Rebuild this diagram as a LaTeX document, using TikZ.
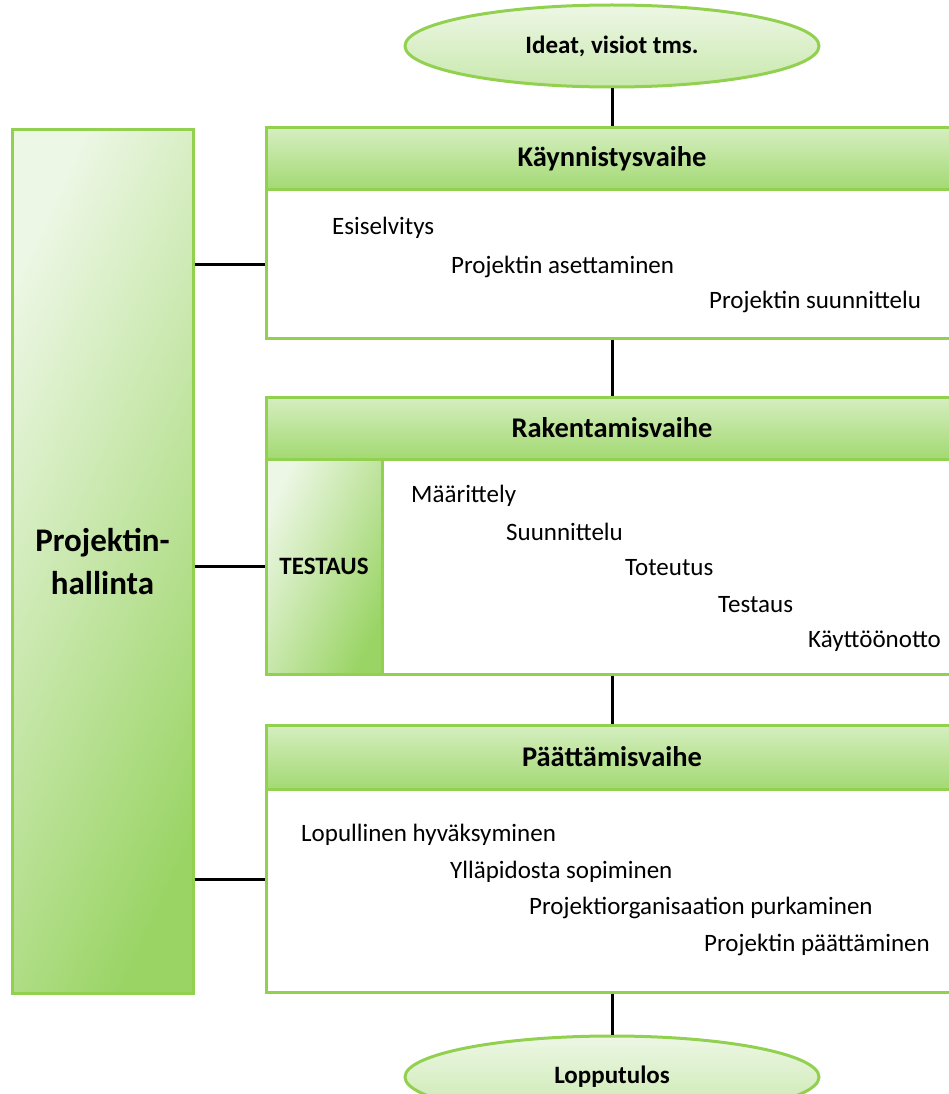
\documentclass[tikz,border=0pt]{standalone}
\usepackage{fontspec}
\setmainfont{Carlito}
\usetikzlibrary{shapes.geometric}
\definecolor{grborder}{HTML}{92D050}
\definecolor{grpale}{HTML}{EDF7E5}
\definecolor{grsoft}{HTML}{C9E8AE}
\definecolor{grdeep}{HTML}{9AD465}
\definecolor{grhead}{HTML}{D5EEC0}
\definecolor{grheadb}{HTML}{A3D972}
\tikzset{
  endnode/.style={ellipse,draw=grborder,line width=3pt,top color=grpale,bottom color=grsoft,
    minimum width=414pt,minimum height=82pt,inner sep=0pt,font=\fontsize{25}{30}\selectfont\bfseries},
  headbox/.style={rectangle,draw=grborder,line width=3pt,top color=grhead,bottom color=grheadb,
    minimum width=692pt,minimum height=62pt,inner sep=0pt,font=\fontsize{28.5}{34}\selectfont\bfseries},
  bodybox/.style={rectangle,draw=grborder,line width=3pt,fill=white,minimum width=692pt,inner sep=0pt},
  sidebox/.style={rectangle,draw=grborder,line width=3pt,top color=grpale,bottom color=grdeep,
    shading angle=65,inner sep=0pt,align=center,font=\fontsize{25}{30}\selectfont\bfseries},
  itemtext/.style={anchor=west,inner sep=0pt,font=\fontsize{25}{30}\selectfont},
  link/.style={line width=3pt,black},
}

\begin{document}
\begin{tikzpicture}[x=1pt,y=-1pt]
  \useasboundingbox (0,0) rectangle (948,1094);
  % management column
  \node[sidebox,minimum width=181pt,minimum height=863pt,font=\fontsize{33}{43}\selectfont\bfseries]
    (hallinta) at (102.5,561.5) {Projektin-\\hallinta};
  % start and end
  \node[endnode] (ideat) at (612,46) {Ideat, visiot tms.};
  \node[endnode] (loppu) at (612,1077) {Lopputulos};
  % phase 1
  \node[bodybox,minimum height=148pt] (kaynbody) at (612,264) {};
  \node[headbox] (kaynhead) at (612,159) {Käynnistysvaihe};
  \node[itemtext] (esisel) at (332,228) {Esiselvitys};
  \node[itemtext] (asett) at (451,267) {Projektin asettaminen};
  \node[itemtext] (suunn) at (709,302) {Projektin suunnittelu};
  % phase 2
  \node[bodybox,minimum height=215pt] (rakbody) at (612,566.5) {};
  \node[headbox] (rakhead) at (612,428) {Rakentamisvaihe};
  \node[sidebox,minimum width=116pt,minimum height=215pt] (testaus) at (324,566.5) {TESTAUS};
  \node[itemtext] (maar) at (411,496) {Määrittely};
  \node[itemtext] (suun) at (506,532) {Suunnittelu};
  \node[itemtext] (tot) at (625,568) {Toteutus};
  \node[itemtext] (test) at (718,605) {Testaus};
  \node[itemtext] (kaytto) at (808,641) {Käyttöönotto};
  % phase 3
  \node[bodybox,minimum height=203pt] (paatbody) at (612,890.5) {};
  \node[headbox,minimum height=64pt] (paathead) at (612,757) {Päättämisvaihe};
  \node[itemtext] (hyvak) at (301,835) {Lopullinen hyväksyminen};
  \node[itemtext] (yllap) at (450,872) {Ylläpidosta sopiminen};
  \node[itemtext] (purk) at (529,908) {Projektiorganisaation purkaminen};
  \node[itemtext] (paatt) at (704,945) {Projektin päättäminen};
  \coordinate (paatlink) at ([yshift=11pt]paatbody.west);
  % connectors
  \draw[link] (ideat) -- (kaynhead);
  \draw[link] (kaynbody) -- (rakhead);
  \draw[link] (rakbody) -- (paathead);
  \draw[link] (paatbody) -- (loppu);
  \draw[link] (hallinta.east |- kaynbody.west) -- (kaynbody.west);
  \draw[link] (hallinta.east |- testaus.west) -- (testaus.west);
  \draw[link] (hallinta.east |- paatlink) -- (paatlink);
\end{tikzpicture}
\end{document}
